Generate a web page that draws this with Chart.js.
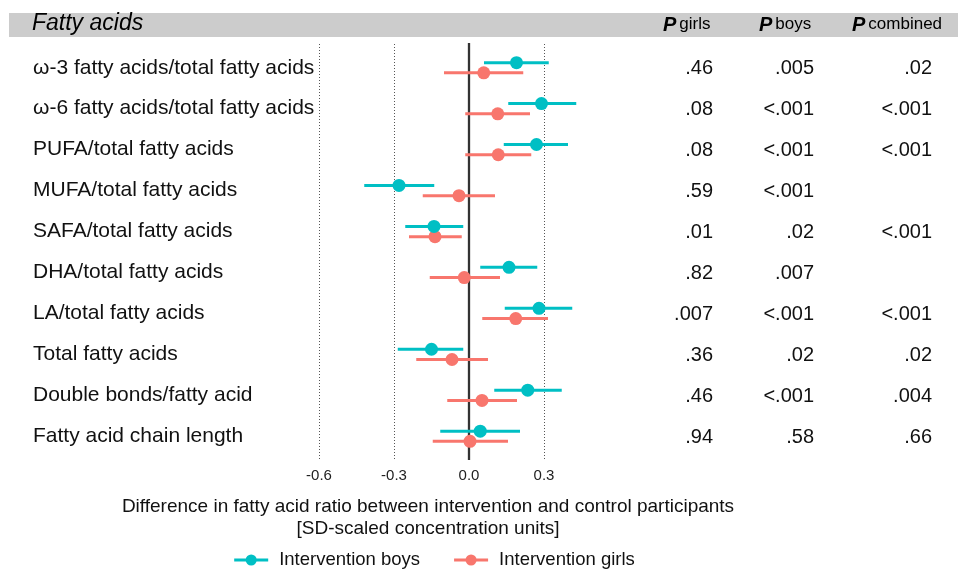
<!DOCTYPE html>
<html>
<head>
<meta charset="utf-8">
<script src="https://cdn.jsdelivr.net/npm/chart.js@4.4.1/dist/chart.umd.min.js"></script>
<style>
  body { margin: 0; background: #fff; }
  canvas { display: block; }
</style>
</head>
<body>
<canvas id="chart" width="958" height="570"></canvas>
<script>
const rowLabels = [
  'ω-3 fatty acids/total fatty acids',
  'ω-6 fatty acids/total fatty acids',
  'PUFA/total fatty acids',
  'MUFA/total fatty acids',
  'SAFA/total fatty acids',
  'DHA/total fatty acids',
  'LA/total fatty acids',
  'Total fatty acids',
  'Double bonds/fatty acid',
  'Fatty acid chain length'
];

// estimates and 95% CI
const boysEst = [0.19, 0.29, 0.27, -0.28, -0.14, 0.16, 0.28, -0.15, 0.235, 0.045];
const boysLo  = [0.06, 0.157, 0.139, -0.419, -0.255, 0.045, 0.143, -0.285, 0.101, -0.115];
const boysHi  = [0.319, 0.429, 0.396, -0.139, -0.023, 0.273, 0.413, -0.023, 0.371, 0.204];

const girlsEst = [0.059, 0.115, 0.117, -0.04, -0.136, -0.019, 0.187, -0.068, 0.052, 0.004];
const girlsLo  = [-0.1, -0.015, -0.015, -0.185, -0.24, -0.157, 0.053, -0.211, -0.087, -0.145];
const girlsHi  = [0.217, 0.244, 0.249, 0.104, -0.029, 0.124, 0.316, 0.076, 0.192, 0.156];

const pGirls    = ['.46', '.08', '.08', '.59', '.01', '.82', '.007', '.36', '.46', '.94'];
const pBoys     = ['.005', '<.001', '<.001', '<.001', '.02', '.007', '<.001', '.02', '<.001', '.58'];
const pCombined = ['.02', '<.001', '<.001', '', '<.001', '', '<.001', '.02', '.004', '.66'];

const xTicks = [-0.6, -0.3, 0, 0.3];

const FONT = "'Liberation Sans', Arial, sans-serif";
const TEAL = '#00BFC4';
const SALMON = '#F8766D';
const dodge = 0.125;

function points(est, shift) {
  return est.map((v, i) => ({ x: v, y: i + 1 + shift }));
}

// header band, row labels, p-value columns, axis title, legend
const tablePlugin = {
  id: 'table',
  beforeDraw(chart) {
    const ctx = chart.ctx;
    ctx.save();
    ctx.fillStyle = '#fff';
    ctx.fillRect(0, 0, chart.width, chart.height);
    ctx.fillStyle = '#cccccc';
    ctx.fillRect(9, 13, chart.width - 9, 24);

    ctx.fillStyle = '#000';
    ctx.textBaseline = 'middle';
    ctx.textAlign = 'left';
    ctx.font = `italic 23px ${FONT}`;
    ctx.fillText('Fatty acids', 32, 24);

    const heads = [['girls', 663], ['boys', 759], ['combined', 852]];
    for (const [txt, x] of heads) {
      ctx.font = `italic bold 20px ${FONT}`;
      ctx.fillText('P', x, 25);
      const w = ctx.measureText('P').width;
      ctx.font = `17px ${FONT}`;
      ctx.fillText(txt, x + w + 3, 24);
    }
    ctx.restore();
  },
  beforeDatasetsDraw(chart) {
    const ctx = chart.ctx;
    const { top, bottom } = chart.chartArea;
    const x0 = chart.scales.x.getPixelForValue(0);
    ctx.save();
    ctx.strokeStyle = '#333';
    ctx.lineWidth = 2.3;
    ctx.beginPath();
    ctx.moveTo(x0, top - 1);
    ctx.lineTo(x0, bottom);
    ctx.stroke();
    ctx.restore();
  },
  beforeDatasetDraw(chart, args) {
    const ds = chart.data.datasets[args.index];
    const xs = chart.scales.x;
    const ctx = chart.ctx;
    ctx.save();
    ctx.strokeStyle = ds.backgroundColor;
    ctx.lineWidth = 3;
    args.meta.data.forEach((pt, i) => {
      ctx.beginPath();
      ctx.moveTo(xs.getPixelForValue(ds.lo[i]), pt.y);
      ctx.lineTo(xs.getPixelForValue(ds.hi[i]), pt.y);
      ctx.stroke();
    });
    ctx.restore();
  },
  afterDraw(chart) {
    const ctx = chart.ctx;
    const ys = chart.scales.y;
    ctx.save();
    ctx.fillStyle = '#111';
    ctx.textBaseline = 'middle';
    rowLabels.forEach((lab, i) => {
      const y = ys.getPixelForValue(i + 1);
      ctx.textAlign = 'left';
      ctx.font = `21px ${FONT}`;
      ctx.fillText(lab, 33, y);
      ctx.textAlign = 'right';
      ctx.font = `20px ${FONT}`;
      ctx.fillText(pGirls[i], 713, y + 1);
      ctx.fillText(pBoys[i], 814, y + 1);
      ctx.fillText(pCombined[i], 932, y + 1);
    });

    // axis title
    ctx.textAlign = 'center';
    ctx.font = `19px ${FONT}`;
    ctx.fillText('Difference in fatty acid ratio between intervention and control participants', 428, 507);
    ctx.fillText('[SD-scaled concentration units]', 428, 529);

    // legend
    ctx.font = `18.5px ${FONT}`;
    const items = chart.data.datasets.map(ds => ({ label: ds.label, color: ds.backgroundColor }));
    const markW = 34, gapText = 11, gapItem = 34;
    let total = 0;
    items.forEach((it, i) => {
      it.w = ctx.measureText(it.label).width;
      total += markW + gapText + it.w + (i ? gapItem : 0);
    });
    let x = 434.5 - total / 2;
    const ly = 560;
    ctx.textAlign = 'left';
    for (const it of items) {
      ctx.strokeStyle = it.color;
      ctx.fillStyle = it.color;
      ctx.lineWidth = 3;
      ctx.beginPath();
      ctx.moveTo(x, ly);
      ctx.lineTo(x + markW, ly);
      ctx.stroke();
      ctx.beginPath();
      ctx.arc(x + markW / 2, ly, 5.5, 0, Math.PI * 2);
      ctx.fill();
      ctx.fillStyle = '#111';
      ctx.fillText(it.label, x + markW + gapText, ly);
      x += markW + gapText + it.w + gapItem;
    }
    ctx.restore();
  }
};

new Chart(document.getElementById('chart'), {
  type: 'scatter',
  data: {
    datasets: [
      {
        label: 'Intervention boys',
        data: points(boysEst, -dodge),
        lo: boysLo,
        hi: boysHi,
        backgroundColor: TEAL,
        borderWidth: 0,
        pointRadius: 6.5
      },
      {
        label: 'Intervention girls',
        data: points(girlsEst, dodge),
        lo: girlsLo,
        hi: girlsHi,
        backgroundColor: SALMON,
        borderWidth: 0,
        pointRadius: 6.5
      }
    ]
  },
  options: {
    responsive: false,
    animation: false,
    events: [],
    layout: {
      padding: { left: 294, right: 364, top: 44, bottom: 78 }
    },
    plugins: {
      legend: { display: false },
      tooltip: { enabled: false }
    },
    scales: {
      x: {
        min: -0.7,
        max: 0.5,
        afterBuildTicks: scale => {
          scale.ticks = xTicks.map(v => ({ value: v }));
        },
        ticks: {
          padding: 7,
          color: '#222',
          font: { family: FONT, size: 15 },
          callback: v => Number(v).toFixed(1)
        },
        grid: {
          color: '#555',
          lineWidth: 1,
          drawTicks: false
        },
        border: { display: false, dash: [1, 2] }
      },
      y: {
        display: false,
        reverse: true,
        min: 0.42,
        max: 10.58
      }
    }
  },
  plugins: [tablePlugin]
});
</script>
</body>
</html>
